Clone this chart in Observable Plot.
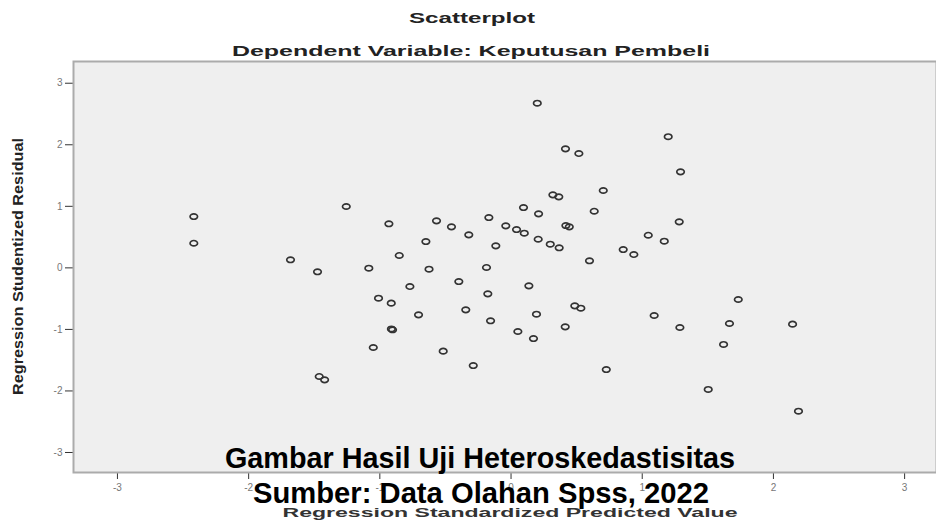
<!DOCTYPE html>
<html>
<head>
<meta charset="utf-8">
<script src="https://cdn.jsdelivr.net/npm/d3@7"></script>
<script src="https://cdn.jsdelivr.net/npm/@observablehq/plot@0.6"></script>
<style>
  body { margin: 0; background: #fff; }
  #chart { width: 936px; height: 522px; }
</style>
</head>
<body>
<div id="chart"></div>
<script>
// ---- data ----
const predicted = [
  -2.418, -2.418, -1.256, -1.681, -1.475, -0.931, -0.649, -0.852, -1.084, -0.625,
  -0.771, -1.010, -0.913, -0.705, -0.903, -0.912, -1.050, -1.462, -1.421,
   0.415,  0.517,  1.198,  0.319,  0.364,  0.703,  0.095,  0.210,  0.634, -0.568,
  -0.454, -0.322, -0.169, -0.040,  0.042,  0.101,  0.418,  0.444,  0.207,  0.299,
   0.367, -0.116, -0.187,  0.598, -0.398,  0.855,  0.936,  1.046,  1.168,
   0.136, -0.177, -0.345, -0.156,  0.194,  0.052,  0.171,  0.486,  0.532,  0.413,
   1.091, -0.517, -0.288,  0.726,
   1.292,  1.282,  1.732,  1.287,  1.665,  2.146,  1.620,  1.503,  2.191,  0.200
];
const residual = [
   0.834,  0.400,  0.997,  0.131, -0.064,  0.716,  0.428,  0.201, -0.006, -0.022,
  -0.303, -0.493, -0.574, -0.763, -1.006, -0.993, -1.294, -1.765, -1.819,
   1.934,  1.858,  2.131,  1.187,  1.154,  1.257,  0.980,  0.878,  0.920,  0.764,
   0.667,  0.537,  0.818,  0.683,  0.623,  0.563,  0.688,  0.667,  0.465,  0.384,
   0.326,  0.358,  0.006,  0.115, -0.222,  0.298,  0.217,  0.530,  0.433,
  -0.292, -0.422, -0.682, -0.860, -0.753, -1.034, -1.148, -0.617, -0.656, -0.958,
  -0.774, -1.354, -1.587, -1.652,
   1.560,  0.748, -0.514, -0.969, -0.904, -0.915, -1.245, -1.976, -2.329,  2.675
];
const xTicks = [-3, -2, -1, 0, 1, 2, 3];
const yTicks = [-3, -2, -1, 0, 1, 2, 3];
const xDomain = [-3.335, 3.243];
const yDomain = [-3.325, 3.353];

const chartTitle = "Scatterplot";
const chartSubtitle = "Dependent Variable: Keputusan Pembeli";
const xLabel = "Regression Standardized Predicted Value";
const yLabel = "Regression Studentized Residual";
const overlay1 = "Gambar Hasil Uji Heteroskedastisitas";
const overlay2 = "Sumber: Data Olahan Spss, 2022";

const data = predicted.map((x, i) => ({x, y: residual[i]}));

// open elliptical marker like SPSS "o"
const ellipse = {
  draw(context, size) {
    const r = Math.sqrt(size / Math.PI);
    const rx = r * 1.17, ry = r * 0.85, k = 0.5523;
    context.moveTo(rx, 0);
    context.bezierCurveTo(rx, k * ry, k * rx, ry, 0, ry);
    context.bezierCurveTo(-k * rx, ry, -rx, k * ry, -rx, 0);
    context.bezierCurveTo(-rx, -k * ry, -k * rx, -ry, 0, -ry);
    context.bezierCurveTo(k * rx, -ry, rx, -k * ry, rx, 0);
    context.closePath();
  }
};

const svg = Plot.plot({
  width: 936,
  height: 522,
  marginLeft: 73,
  marginRight: 0,
  marginTop: 61,
  marginBottom: 50,
  style: {background: "#fff", color: "#333", fontFamily: "'Liberation Sans', Arial, sans-serif", fontSize: "10px"},
  x: {domain: xDomain, ticks: xTicks, tickFormat: d => String(d), tickSize: 7, tickPadding: 4, line: true, label: null},
  y: {domain: yDomain, ticks: yTicks, tickFormat: d => String(d), tickSize: 8, tickPadding: 3, line: true, label: null},
  marks: [
    Plot.frame({fill: "#efefef", stroke: "#ababab", strokeWidth: 2}),
    Plot.dot(data, {x: "x", y: "y", symbol: ellipse, r: 3.2, stroke: "#333", strokeWidth: 1.7, fill: "none"})
  ]
});
document.getElementById("chart").appendChild(svg);

const s = d3.select(svg);
s.selectAll('[aria-label^="x-axis"] text, [aria-label^="y-axis"] text').attr("fill", "#777");

function addText(str, x, y, opts) {
  const t = s.append("text")
    .attr("x", x).attr("y", y)
    .attr("text-anchor", "middle")
    .attr("font-family", "'Liberation Sans', Arial, sans-serif")
    .attr("font-weight", "bold")
    .attr("font-size", opts.size)
    .attr("fill", opts.fill || "#222")
    .attr("textLength", opts.len)
    .attr("lengthAdjust", "spacingAndGlyphs")
    .text(str);
  if (opts.transform) t.attr("transform", opts.transform).attr("x", 0).attr("y", 0);
  return t;
}
addText(chartTitle, 472, 23, {size: 14, len: 126});
addText(chartSubtitle, 471, 56, {size: 14, len: 478});
addText(xLabel, 510, 517, {size: 13, len: 455, fill: "#333"});
addText(yLabel, 0, 0, {size: 15, len: 257, transform: "translate(23,266.5) rotate(-90)"});
addText(overlay1, 480, 468, {size: 29, len: 510, fill: "#000"});
addText(overlay2, 481, 503, {size: 29, len: 456, fill: "#000"});
</script>
</body>
</html>
